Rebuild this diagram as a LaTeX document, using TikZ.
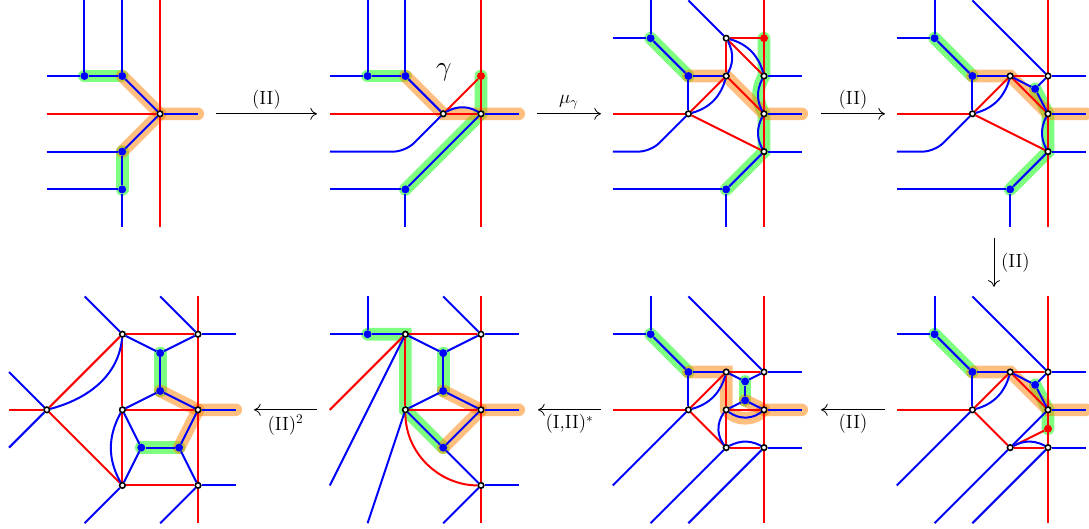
\documentclass[tikz,border=0pt]{standalone}
\usetikzlibrary{arrows.meta, backgrounds}

\begin{document}
\begin{tikzpicture}[
        vx/.style={circle, draw=black, fill=white, line width=1.2pt, inner sep=0pt, minimum size=4.2pt},
        bd/.style={circle, fill=blue, inner sep=0pt, minimum size=6pt},
        rt/.style={circle, fill=red, inner sep=0pt, minimum size=6pt},
        bl/.style={blue, line width=1.5pt},
        rd/.style={red, line width=1.5pt},
        hg/.style={draw=green, opacity=.5, line width=9.5pt, line cap=round},
        ho/.style={draw=orange, opacity=.5, line width=9.5pt, line cap=round},
        mv/.style={-{To[length=5pt,width=9pt]}, line width=.6pt},
        lb/.style={font=\Large}
    ]
    \useasboundingbox (0,0) rectangle (28.81,13.99);

    % top row
    \begin{scope}[shift={(4.233,10.979)}, name prefix=pa-]
        \node[vx] (v1) at (0,0) {};
        \node[bd] (b1) at (-2,1) {}; \node[bd] (b2) at (-1,1) {};
        \node[bd] (b3) at (-1,-1) {}; \node[bd] (b4) at (-1,-2) {};
        \coordinate (t1) at (-2,3); \coordinate (t2) at (-1,3); \coordinate (t3) at (0,3);
        \coordinate (s1) at (-1,-3); \coordinate (s3) at (0,-3);
        \coordinate (l1) at (-3,1); \coordinate (l2) at (-3,0); \coordinate (l3) at (-3,-1); \coordinate (l4) at (-3,-2);
        \coordinate (r2) at (1,0);
        \begin{scope}[on background layer]
            \draw[hg] (b1.center)--(b2.center); \draw[hg] (b3.center)--(b4.center);
            \draw[ho] (b2.center)--(v1.center)--(r2); \draw[ho] (b3.center)--(v1.center);
            \draw[rd] (t3)--(s3); \draw[rd] (l2)--(v1);
            \draw[bl] (t1)--(b1); \draw[bl] (t2)--(b2); \draw[bl] (l1)--(b1); \draw[bl] (b1)--(b2);
            \draw[bl] (b2)--(v1); \draw[bl] (v1)--(r2); \draw[bl] (v1)--(b3); \draw[bl] (l3)--(b3);
            \draw[bl] (b3)--(b4); \draw[bl] (b4)--(s1); \draw[bl] (l4)--(b4);
        \end{scope}
    \end{scope}

    \begin{scope}[shift={(12.725,10.979)}, name prefix=pb-]
        \node[vx] (v1) at (-1,0) {}; \node[vx] (v2) at (0,0) {};
        \node[bd] (b1) at (-3,1) {}; \node[bd] (b2) at (-2,1) {}; \node[bd] (b3) at (-2,-2) {};
        \node[rt] (rt) at (0,1) {};
        \node[font=\huge] (gm) at (-.98,1.11) {$\gamma$};
        \coordinate (t1) at (-3,3); \coordinate (t2) at (-2,3); \coordinate (t3) at (0,3);
        \coordinate (s1) at (-2,-3); \coordinate (s3) at (0,-3);
        \coordinate (l1) at (-4,1); \coordinate (l2) at (-4,0); \coordinate (l3) at (-4,-1); \coordinate (l4) at (-4,-2);
        \coordinate (c1) at (-2,-1); \coordinate (r2) at (1,0);
        \begin{scope}[on background layer]
            \draw[hg] (b1.center)--(b2.center); \draw[hg] (rt.center)--(v2.center)--(b3.center);
            \draw[ho] (b2.center)--(v1.center)--(v2.center)--(r2);
            \draw[rd] (t3)--(s3); \draw[rd] (l2)--(v1); \draw[rd] (v1)--(v2); \draw[rd] (v1)--(rt);
            \draw[bl] (t1)--(b1); \draw[bl] (t2)--(b2); \draw[bl] (l1)--(b1); \draw[bl] (b1)--(b2);
            \draw[bl] (b2)--(v1); \draw[bl] (v1) to[bend left=33] (v2); \draw[bl] (v2)--(r2);
            \draw[bl, rounded corners=9pt] (l3)--(c1)--(v1);
            \draw[bl] (v2)--(b3); \draw[bl] (l4)--(b3); \draw[bl] (b3)--(s1);
        \end{scope}
    \end{scope}

    \begin{scope}[shift={(20.212,10.979)}, name prefix=pc-]
        \node[vx] (v1) at (-1,2) {}; \node[vx] (v2) at (-1,1) {}; \node[vx] (v3) at (-2,0) {};
        \node[vx] (v4) at (0,1) {}; \node[vx] (v5) at (0,0) {}; \node[vx] (v6) at (0,-1) {};
        \node[bd] (b1) at (-3,2) {}; \node[bd] (b2) at (-2,1) {}; \node[bd] (b3) at (-1,-2) {};
        \node[rt] (rt) at (0,2) {};
        \coordinate (t1) at (-3,3); \coordinate (t2) at (-2,3); \coordinate (t3) at (0,3);
        \coordinate (s1) at (-1,-3); \coordinate (s3) at (0,-3);
        \coordinate (l1) at (-4,2); \coordinate (l2) at (-4,0); \coordinate (l3) at (-4,-1); \coordinate (l4) at (-4,-2);
        \coordinate (c1) at (-3,-1);
        \coordinate (r1) at (1,1); \coordinate (r2) at (1,0); \coordinate (r3) at (1,-1);
        \begin{scope}[on background layer]
            \draw[hg] (b1.center)--(b2.center);
            \draw[hg] (rt.center)--(v4.center) to[bend right=30] (v5.center)--(v6.center)--(b3.center);
            \draw[ho] (b2.center)--(v2.center)--(v5.center)--(r2);
            \draw[rd] (t3)--(s3); \draw[rd] (l2)--(v3); \draw[rd] (v3)--(v2); \draw[rd] (v3)--(v6);
            \draw[rd] (v2)--(v5); \draw[rd] (v1)--(v2); \draw[rd] (v1)--(v4); \draw[rd] (v1)--(rt);
            \draw[bl] (t1)--(b1); \draw[bl] (l1)--(b1); \draw[bl] (b1)--(b2); \draw[bl] (b2)--(v2); \draw[bl] (b2)--(v3);
            \draw[bl] (t2)--(v1); \draw[bl] (v1) to[bend left=30] (v2); \draw[bl] (v1) to[out=-15,in=105] (v4);
            \draw[bl] (v3) to[out=15,in=-105] (v2); \draw[bl, rounded corners=9pt] (l3)--(c1)--(v3);
            \draw[bl] (v4)--(r1); \draw[bl] (v5)--(r2); \draw[bl] (v6)--(r3);
            \draw[bl] (v4) to[bend right=30] (v5); \draw[bl] (v5) to[bend right=30] (v6);
            \draw[bl] (v6)--(b3); \draw[bl] (l4)--(b3); \draw[bl] (b3)--(s1);
        \end{scope}
    \end{scope}

    \begin{scope}[shift={(27.725,10.979)}, name prefix=pd-]
        \node[vx] (v2) at (-1,1) {}; \node[vx] (v3) at (-2,0) {}; \node[vx] (v4) at (0,1) {};
        \node[vx] (v5) at (0,0) {}; \node[vx] (v6) at (0,-1) {};
        \node[bd] (b1) at (-3,2) {}; \node[bd] (b2) at (-2,1) {}; \node[bd] (b3) at (-1,-2) {};
        \node[bd] (b4) at (-.34,.66) {};
        \coordinate (t1) at (-3,3); \coordinate (t2) at (-2,3); \coordinate (t3) at (0,3);
        \coordinate (s1) at (-1,-3); \coordinate (s3) at (0,-3);
        \coordinate (l1) at (-4,2); \coordinate (l2) at (-4,0); \coordinate (l3) at (-4,-1); \coordinate (l4) at (-4,-2);
        \coordinate (c1) at (-3,-1);
        \coordinate (r1) at (1,1); \coordinate (r2) at (1,0); \coordinate (r3) at (1,-1);
        \begin{scope}[on background layer]
            \draw[hg] (b1.center)--(b2.center); \draw[hg] (b4.center)--(v5.center)--(v6.center)--(b3.center);
            \draw[ho] (b2.center)--(v2.center)--(v5.center)--(r2);
            \draw[rd] (t3)--(s3); \draw[rd] (l2)--(v3); \draw[rd] (v3)--(v2); \draw[rd] (v3)--(v6);
            \draw[rd] (v2)--(v4); \draw[rd] (v2)--(v5);
            \draw[bl] (t1)--(b1); \draw[bl] (l1)--(b1); \draw[bl] (b1)--(b2); \draw[bl] (b2)--(v2); \draw[bl] (b2)--(v3);
            \draw[bl] (t2)--(v4); \draw[bl] (v4)--(r1); \draw[bl] (v2)--(b4); \draw[bl] (b4)--(v4); \draw[bl] (b4)--(v5);
            \draw[bl] (v5)--(r2); \draw[bl] (v3) to[out=15,in=-105] (v2); \draw[bl, rounded corners=9pt] (l3)--(c1)--(v3);
            \draw[bl] (v5) to[bend right=30] (v6); \draw[bl] (v6)--(r3);
            \draw[bl] (v6)--(b3); \draw[bl] (l4)--(b3); \draw[bl] (b3)--(s1);
        \end{scope}
    \end{scope}

    % bottom row, right to left
    \begin{scope}[shift={(27.725,3.148)}, name prefix=pe-]
        \node[vx] (v2) at (-1,1) {}; \node[vx] (v3) at (-2,0) {}; \node[vx] (v4) at (0,1) {};
        \node[vx] (v5) at (0,0) {}; \node[vx] (v6) at (-1,-1) {}; \node[vx] (v7) at (0,-1) {};
        \node[bd] (b1) at (-3,2) {}; \node[bd] (b2) at (-2,1) {}; \node[bd] (b4) at (-.34,.66) {};
        \node[rt] (rt) at (0,-.5) {};
        \coordinate (t1) at (-3,3); \coordinate (t2) at (-2,3); \coordinate (t3) at (0,3);
        \coordinate (s1) at (-3,-3); \coordinate (s2) at (-2,-3); \coordinate (s3) at (0,-3);
        \coordinate (l1) at (-4,2); \coordinate (l2) at (-4,0); \coordinate (l3) at (-4,-2);
        \coordinate (r1) at (1,1); \coordinate (r2) at (1,0); \coordinate (r3) at (1,-1);
        \begin{scope}[on background layer]
            \draw[hg] (b1.center)--(b2.center); \draw[hg] (b4.center)--(v5.center)--(rt.center);
            \draw[ho] (b2.center)--(v2.center)--(v5.center)--(r2);
            \draw[rd] (t3)--(s3); \draw[rd] (l2)--(v3); \draw[rd] (v3)--(v2); \draw[rd] (v3)--(v6);
            \draw[rd] (v2)--(v4); \draw[rd] (v2)--(v5); \draw[rd] (v6)--(rt); \draw[rd] (v6)--(v7);
            \draw[bl] (t1)--(b1); \draw[bl] (l1)--(b1); \draw[bl] (b1)--(b2); \draw[bl] (b2)--(v2); \draw[bl] (b2)--(v3);
            \draw[bl] (t2)--(v4); \draw[bl] (v4)--(r1); \draw[bl] (v2)--(b4); \draw[bl] (b4)--(v4); \draw[bl] (b4)--(v5);
            \draw[bl] (v5)--(r2); \draw[bl] (v3) to[out=15,in=-105] (v2); \draw[bl] (l3)--(v3);
            \draw[bl] (v5)--(v6); \draw[bl] (v6) to[bend left=30] (v7); \draw[bl] (v7)--(r3);
            \draw[bl] (v6)--(s1); \draw[bl] (v7)--(s2);
        \end{scope}
    \end{scope}

    \begin{scope}[shift={(20.212,3.148)}, name prefix=pf-]
        \node[vx] (v1) at (-1,1) {}; \node[vx] (v2) at (0,1) {}; \node[vx] (v3) at (-2,0) {}; \node[vx] (v4) at (-1,0) {};
        \node[vx] (v5) at (0,0) {}; \node[vx] (v6) at (-1,-1) {}; \node[vx] (v7) at (0,-1) {};
        \node[bd] (b1) at (-3,2) {}; \node[bd] (b2) at (-2,1) {};
        \node[bd] (b3) at (-.5,.75) {}; \node[bd] (b4) at (-.5,.25) {};
        \coordinate (t1) at (-3,3); \coordinate (t2) at (-2,3); \coordinate (t3) at (0,3);
        \coordinate (s1) at (-3,-3); \coordinate (s2) at (-2,-3); \coordinate (s3) at (0,-3);
        \coordinate (l1) at (-4,2); \coordinate (l2) at (-4,0); \coordinate (l3) at (-4,-2);
        \coordinate (r1) at (1,1); \coordinate (r2) at (1,0); \coordinate (r3) at (1,-1);
        \begin{scope}[on background layer]
            \draw[hg] (b1.center)--(b2.center); \draw[hg] (b3.center)--(b4.center);
            \draw[ho] (b2.center)--(v1.center)--(v4.center) to[bend right=50] (v5.center)--(r2);
            \draw[ho] (b4.center)--(v5.center);
            \draw[rd] (t3)--(s3); \draw[rd] (l2)--(v3); \draw[rd] (v3)--(v1); \draw[rd] (v3)--(v6); \draw[rd] (v1)--(v2);
            \draw[rd] (v1)--(v4); \draw[rd] (v4)--(v5); \draw[rd] (v4)--(v6); \draw[rd] (v6)--(v7);
            \draw[bl] (t1)--(b1); \draw[bl] (l1)--(b1); \draw[bl] (b1)--(b2); \draw[bl] (b2)--(v1); \draw[bl] (b2)--(v3);
            \draw[bl] (t2)--(v2); \draw[bl] (v2)--(r1); \draw[bl] (v1)--(b3); \draw[bl] (v2)--(b3); \draw[bl] (b3)--(b4);
            \draw[bl] (b4)--(v4); \draw[bl] (b4)--(v5); \draw[bl] (v5)--(r2);
            \draw[bl] (v3) to[out=15,in=-105] (v1); \draw[bl] (l3)--(v3);
            \draw[bl] (v4) to[bend right=40] (v5); \draw[bl] (v4) to[bend right=40] (v6);
            \draw[bl] (v6) to[bend left=30] (v7); \draw[bl] (v7)--(r3); \draw[bl] (v6)--(s1); \draw[bl] (v7)--(s2);
        \end{scope}
    \end{scope}

    \begin{scope}[shift={(12.725,3.148)}, name prefix=pg-]
        \node[vx] (v1) at (-2,2) {}; \node[vx] (v2) at (0,2) {}; \node[vx] (v3) at (-2,0) {};
        \node[vx] (v4) at (0,0) {}; \node[vx] (v5) at (0,-2) {};
        \node[bd] (b1) at (-3,2) {}; \node[bd] (b2) at (-1,1.5) {}; \node[bd] (b3) at (-1,.5) {}; \node[bd] (b4) at (-1,-1) {};
        \coordinate (t1) at (-3,3); \coordinate (t2) at (-1,3); \coordinate (t3) at (0,3);
        \coordinate (s1) at (-3,-3); \coordinate (s2) at (-1,-3); \coordinate (s3) at (0,-3);
        \coordinate (l1) at (-4,2); \coordinate (l2) at (-4,0); \coordinate (l3) at (-4,-2);
        \coordinate (r1) at (1,2); \coordinate (r2) at (1,0); \coordinate (r3) at (1,-2);
        \begin{scope}[on background layer]
            \draw[hg] (b1.center)--(v1.center)--(v3.center)--(b4.center); \draw[hg] (b2.center)--(b3.center);
            \draw[ho] (b3.center)--(v4.center)--(r2); \draw[ho] (b4.center)--(v4.center);
            \draw[rd] (t3)--(s3); \draw[rd] (l2)--(v1); \draw[rd] (v1)--(v2); \draw[rd] (v1)--(v3);
            \draw[rd] (v3)--(v4); \draw[rd] (v3) to[out=-90,in=180] (v5);
            \draw[bl] (t1)--(b1); \draw[bl] (l1)--(b1); \draw[bl] (b1)--(v1); \draw[bl] (t2)--(v2); \draw[bl] (v2)--(r1);
            \draw[bl] (v1)--(b2); \draw[bl] (v2)--(b2); \draw[bl] (b2)--(b3); \draw[bl] (b3)--(v3); \draw[bl] (b3)--(v4);
            \draw[bl] (v4)--(r2); \draw[bl] (v1)--(l3); \draw[bl] (v3)--(s1); \draw[bl] (v3)--(b4); \draw[bl] (b4)--(v4);
            \draw[bl] (b4)--(v5); \draw[bl] (v5)--(r3); \draw[bl] (v5)--(s2);
        \end{scope}
    \end{scope}

    \begin{scope}[shift={(5.238,3.148)}, name prefix=ph-]
        \node[vx] (v1) at (-2,2) {}; \node[vx] (v2) at (0,2) {}; \node[vx] (v3) at (-2,0) {}; \node[vx] (v4) at (0,0) {};
        \node[vx] (v5) at (-2,-2) {}; \node[vx] (v6) at (0,-2) {}; \node[vx] (v7) at (-4,0) {};
        \node[bd] (b1) at (-1,1.5) {}; \node[bd] (b2) at (-1,.5) {}; \node[bd] (b3) at (-1.5,-1) {}; \node[bd] (b4) at (-.5,-1) {};
        \coordinate (t1) at (-3,3); \coordinate (t2) at (-1,3); \coordinate (t3) at (0,3);
        \coordinate (s1) at (-3,-3); \coordinate (s2) at (-1,-3); \coordinate (s3) at (0,-3);
        \coordinate (l1) at (-5,1); \coordinate (l2) at (-5,0); \coordinate (l3) at (-5,-1);
        \coordinate (r1) at (1,2); \coordinate (r2) at (1,0); \coordinate (r3) at (1,-2);
        \begin{scope}[on background layer]
            \draw[hg] (b1.center)--(b2.center); \draw[hg] (b3.center)--(b4.center);
            \draw[ho] (b2.center)--(v4.center)--(r2); \draw[ho] (b4.center)--(v4.center);
            \draw[rd] (t3)--(s3); \draw[rd] (l2)--(v7); \draw[rd] (v7)--(v1); \draw[rd] (v7)--(v5); \draw[rd] (v1)--(v2);
            \draw[rd] (v1)--(v3); \draw[rd] (v3)--(v4); \draw[rd] (v3)--(v5); \draw[rd] (v5)--(v6);
            \draw[bl] (t1)--(v1); \draw[bl] (t2)--(v2); \draw[bl] (v2)--(r1); \draw[bl] (v1)--(b1); \draw[bl] (v2)--(b1);
            \draw[bl] (b1)--(b2); \draw[bl] (b2)--(v3); \draw[bl] (b2)--(v4); \draw[bl] (v4)--(r2);
            \draw[bl] (l1)--(v7); \draw[bl] (l3)--(v7); \draw[bl] (v7) to[out=15,in=-95] (v1);
            \draw[bl] (v3) to[bend right=30] (v5); \draw[bl] (v3)--(b3); \draw[bl] (b3)--(v5); \draw[bl] (b3)--(b4);
            \draw[bl] (b4)--(v4); \draw[bl] (b4)--(v6); \draw[bl] (v6)--(r3); \draw[bl] (v5)--(s1); \draw[bl] (v6)--(s2);
        \end{scope}
    \end{scope}

    % moves between the panels
    \coordinate (m1a) at (5.714,10.979); \coordinate (m1b) at (8.386,10.979);
    \coordinate (m2a) at (14.206,10.979); \coordinate (m2b) at (15.899,10.979);
    \coordinate (m3a) at (21.72,10.979); \coordinate (m3b) at (23.413,10.979);
    \coordinate (m4a) at (26.296,7.698); \coordinate (m4b) at (26.296,6.402);
    \coordinate (m5a) at (23.413,3.148); \coordinate (m5b) at (21.72,3.148);
    \coordinate (m6a) at (15.899,3.148); \coordinate (m6b) at (14.233,3.148);
    \coordinate (m7a) at (8.386,3.148); \coordinate (m7b) at (6.72,3.148);
    \draw[mv] (m1a)--(m1b) node[midway, above, lb] (lb1) {(II)};
    \draw[mv] (m2a)--(m2b) node[midway, above, lb] (lb2) {$\mu_\gamma$};
    \draw[mv] (m3a)--(m3b) node[midway, above, lb] (lb3) {(II)};
    \draw[mv] (m4a)--(m4b) node[midway, right, lb, inner sep=5pt] (lb4) {(II)};
    \draw[mv] (m5a)--(m5b) node[midway, below, lb] (lb5) {(II)};
    \draw[mv] (m6a)--(m6b) node[midway, below, lb] (lb6) {(I,II)$^*$};
    \draw[mv] (m7a)--(m7b) node[midway, below, lb] (lb7) {(II)$^2$};
\end{tikzpicture}
\end{document}
